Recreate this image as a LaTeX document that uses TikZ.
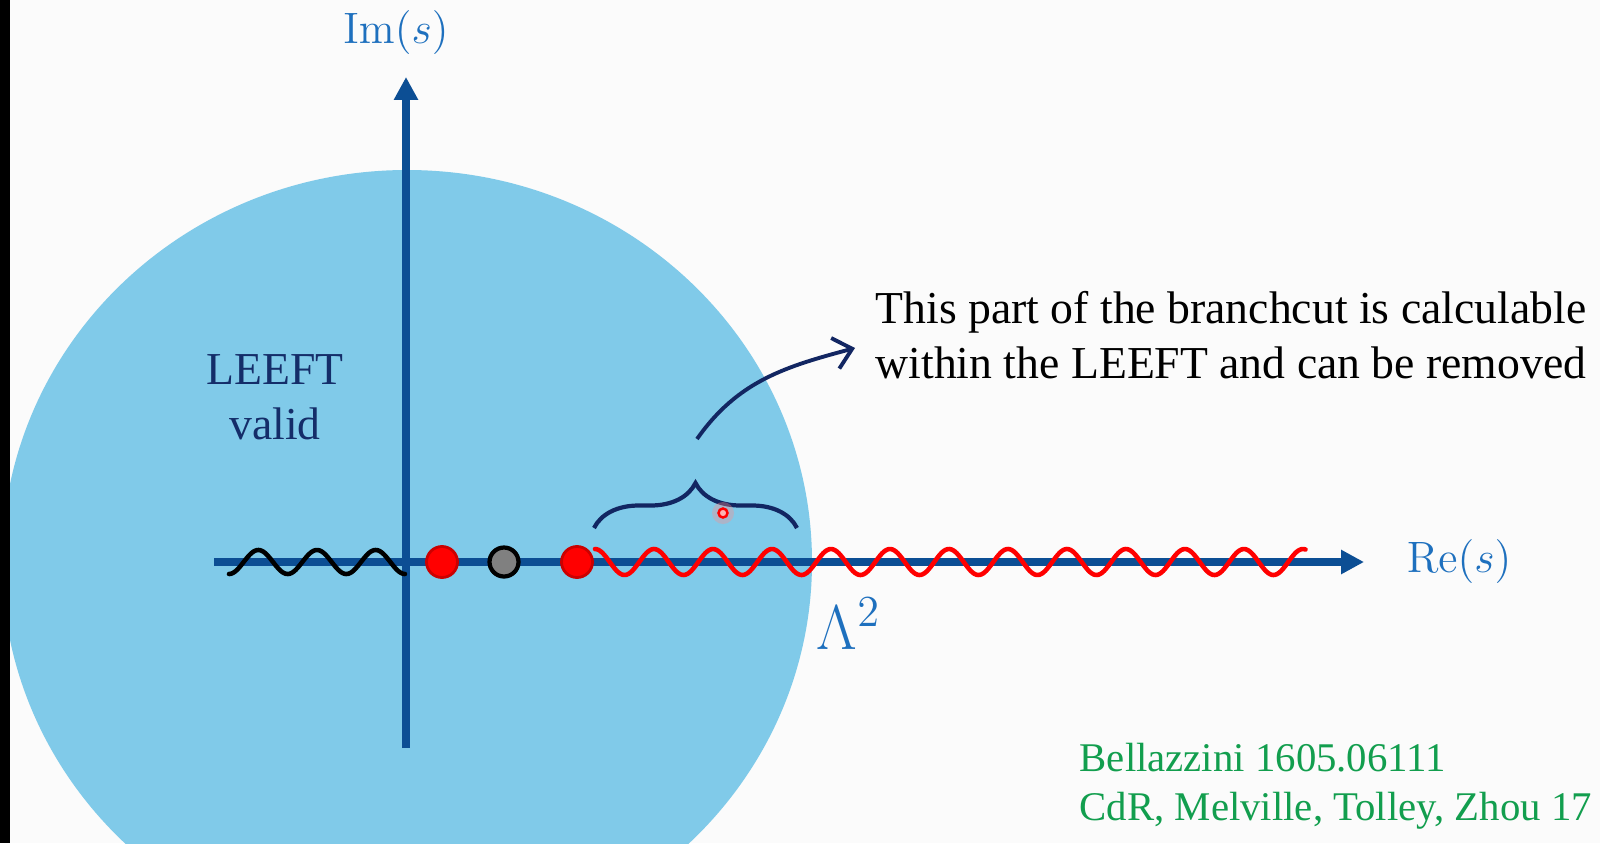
\documentclass[tikz,border=0pt]{standalone}
\usepackage{fix-cm}
\usepackage[no-math]{fontspec}
\setmainfont{Liberation Serif}
\usetikzlibrary{arrows.meta, decorations.pathreplacing}
\definecolor{paperc}{RGB}{251,251,251}
\definecolor{regionc}{RGB}{128,202,233}
\definecolor{axisc}{RGB}{12,78,148}
\definecolor{labelc}{RGB}{30,112,190}
\definecolor{navyc}{RGB}{18,38,98}
\definecolor{leeftc}{RGB}{20,45,105}
\definecolor{polec}{RGB}{255,0,0}
\definecolor{refc}{RGB}{18,158,78}
\tikzset{
  axisline/.style={draw=axisc, line width=2pt, -{Triangle[length=6.5pt, width=6.5pt]}},
  cut/.style={line width=1.3pt, line join=round, line cap=round},
  pole/.style={circle, fill=polec, draw=polec!80!black, line width=0.8pt,
               minimum size=0.31cm, inner sep=0pt},
  greydot/.style={circle, fill=gray, draw=black, line width=1.2pt,
                  minimum size=0.29cm, inner sep=0pt},
  axlbl/.style={text=labelc, font=\fontsize{12.5}{15}\selectfont, inner sep=0pt},
  txt/.style={font=\fontsize{13}{15.6}\selectfont, align=left, inner sep=0pt},
  regionlbl/.style={txt, align=center, text=leeftc},
  refs/.style={font=\fontsize{11.6}{13.9}\selectfont, text=refc, align=left, inner sep=0pt},
  brc/.style={draw=navyc, line width=1.2pt, decorate,
              decoration={brace, amplitude=0.45cm, aspect=0.5}},
  callout/.style={draw=navyc, line width=1.1pt, -{Straight Barb[length=5pt, width=9pt]}},
  halo/.style={circle, fill=red!45, opacity=0.35, minimum size=0.22cm, inner sep=0pt},
  pointer/.style={circle, draw=red, fill=white!70!red, line width=0.7pt,
                  minimum size=0.09cm, inner sep=0pt},
}

\begin{document}
\begin{tikzpicture}

  \useasboundingbox (0,0) rectangle (16,-8.43);
  \clip (0,0) rectangle (16,-8.43);
  \fill[paperc] (0,0) rectangle (16,-8.43);

  % region where the low-energy theory holds
  \fill[regionc] (4.07,-5.62) ellipse [x radius=4.05, y radius=3.92];
  \fill[black] (0,0) rectangle (0.1,-8.43);

  \coordinate (reL) at (2.14,-5.62);
  \coordinate (reR) at (13.64,-5.62);
  \coordinate (imB) at (4.06,-7.48);
  \coordinate (imT) at (4.06,-0.77);
  \draw[axisline] (reL) -- (reR);
  \draw[axisline] (imB) -- (imT);

  \node[axlbl] (imlbl) at (3.96,-0.33) {$\mathrm{Im}(s)$};
  \node[axlbl] (relbl) at (14.59,-5.62) {$\mathrm{Re}(s)$};
  \node[axlbl, font=\fontsize{18}{21}\selectfont, anchor=base west] (lam) at (8.16,-6.49) {$\Lambda^2$};

  % branch cuts
  \draw[cut, black] plot[domain=2.29:4.05, samples=120]
    (\x, {-5.62-0.12*cos(360*(\x-2.29)/0.5867)});
  \draw[cut, polec] plot[domain=5.95:13.06, samples=400]
    (\x, {-5.62+0.13*cos(360*(\x-5.95)/0.59)});

  \node[pole] (polea) at (4.42,-5.62) {};
  \node[greydot] (grey) at (5.04,-5.62) {};
  \node[pole] (poleb) at (5.77,-5.62) {};

  \node[regionlbl] (leeft) at (2.75,-3.975) {LEEFT\\valid};

  \coordinate (brL) at (5.94,-5.28);
  \coordinate (brR) at (7.97,-5.28);
  \draw[brc] (brL) -- (brR);

  \node[txt, anchor=base west] (note) at (8.75,-3.78)
    {This part of the branchcut is calculable\\within the LEEFT and can be removed};
  \coordinate (bracetip) at (6.97,-4.39);
  \coordinate (noteend) at (8.55,-3.48);
  \draw[callout] (bracetip) to[out=55, in=195] (noteend);

  \node[halo] (glow) at (7.23,-5.13) {};
  \node[pointer] (laser) at (7.23,-5.13) {};

  \node[refs, anchor=base west] (cite) at (10.79,-8.2)
    {Bellazzini 1605.06111\\CdR, Melville, Tolley, Zhou 17};

\end{tikzpicture}
\end{document}
